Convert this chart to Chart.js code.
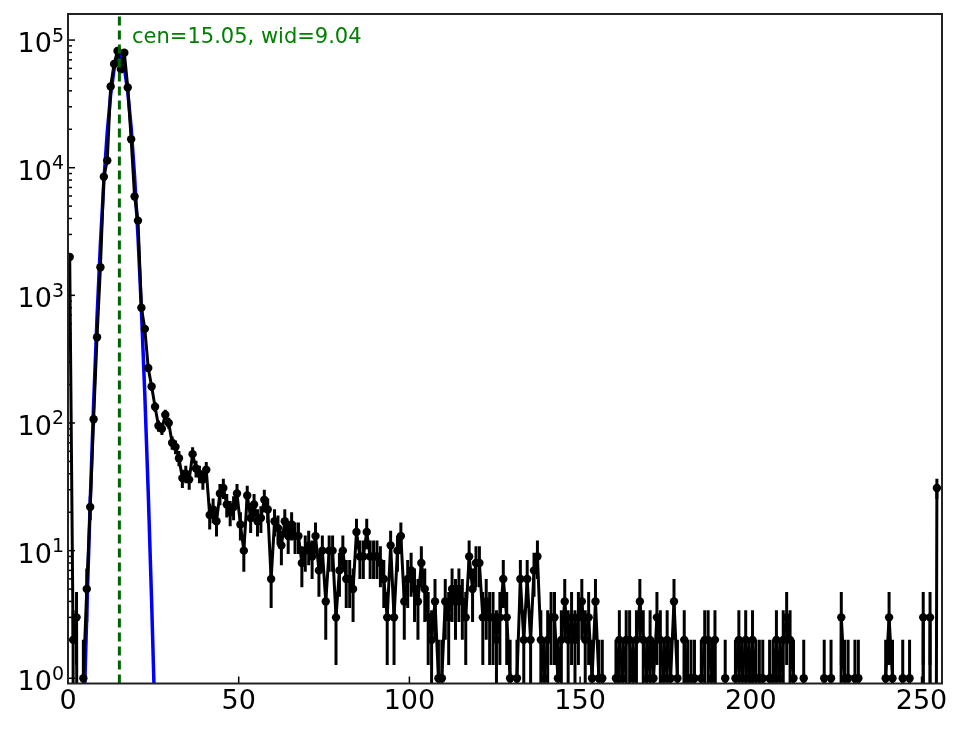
<!DOCTYPE html>
<html>
<head>
<meta charset="utf-8">
<script src="https://cdn.jsdelivr.net/npm/chart.js@4.4.1/dist/chart.umd.min.js"></script>
<style>
  html, body { margin: 0; padding: 0; background: #fff; overflow: hidden; }
  #wrap { width: 964px; height: 729px; position: relative; }
</style>
</head>
<body>
<div id="wrap"><canvas id="chart"></canvas></div>
<script>
// counts per bin, bin i covers [i, i+1)
const counts = [
  2000, 2, 3, 0, 1, 5, 22, 107, 470, 1660,
  8500, 11400, 43300, 65000, 82000, 59000, 79500, 42500, 16700, 5950,
  3850, 800, 546, 270, 193, 134, 95, 90, 116, 100,
  70, 65, 53, 37, 40, 36, 57, 44, 40, 36,
  43, 19, 21, 17, 28, 31, 23, 20, 22, 28,
  16, 10, 27, 18, 23, 17, 18, 25, 21, 6,
  17, 15, 11, 17, 13, 16, 13, 13, 8, 10,
  11, 9, 13, 7, 10, 4, 10, 10, 3, 7,
  10, 6, 6, 5, 14, 9, 9, 14, 9, 9,
  9, 8, 6, 3, 11, 3, 10, 13, 4, 6,
  7, 5, 4, 8, 5, 3, 2, 4, 1, 1,
  4, 3, 5, 4, 5, 4, 3, 9, 5, 8,
  8, 3, 4, 3, 3, 2, 3, 6, 3, 1,
  0, 1, 6, 2, 6, 2, 7, 9, 2, 1,
  2, 3, 3, 1, 2, 4, 2, 3, 2, 3,
  4, 2, 3, 1, 4, 1, 1, 0, 0, 0,
  1, 2, 1, 2, 2, 1, 2, 4, 2, 1,
  2, 1, 3, 2, 1, 2, 1, 4, 1, 0,
  2, 1, 1, 1, 0, 1, 2, 2, 1, 2,
  0, 0, 1, 0, 0, 1, 2, 1, 2, 1,
  2, 1, 1, 1, 0, 1, 1, 2, 1, 2,
  3, 2, 1, 0, 0, 1, 0, 0, 0, 0,
  0, 1, 0, 1, 0, 0, 3, 1, 1, 0,
  1, 1, 0, 0, 0, 0, 0, 0, 0, 1,
  3, 1, 0, 0, 1, 0, 1, 0, 0, 0,
  3, 0, 3, 0, 31
];

// gaussian fit curve as drawn (blue)
const fitX = [3.5, 4.5, 5.5, 6.5, 7.5, 8.5, 9.5, 10.5, 11.5, 12.5, 13.5, 14.5,
              15.5, 16.5, 17.5, 18.5, 19.5, 20.5, 21.5, 22.5, 23.5, 24.5, 25.5, 26.5];
const fitY = [0.03, 0.35, 3.2, 23.7, 141, 669, 2550, 7800, 19100, 37500, 59000, 74500,
              75300, 61000, 39600, 20600, 8600, 2880, 772, 166, 28.6, 3.95, 0.44, 0.04];
const fitCen = 15.05;
const fitWid = 9.04;

const xTicks = [0, 50, 100, 150, 200, 250];
const yDecades = [0, 1, 2, 3, 4, 5];
const xMin = 0, xMax = 256;
const yMin = 0.91, yMax = 1.6e5;

const FONT = '"DejaVu Sans", sans-serif';

// zero bins are clipped to the bottom like matplotlib's log 'clip'
const points = counts.map((c, i) => ({ x: i + 0.5, y: c > 0 ? c : 1e-9 }));
const fitPoints = fitX.map((x, i) => ({ x: x, y: fitY[i] }));

const mplAxes = {
  id: 'mplAxes',
  beforeDatasetsDraw(chart) {
    // sqrt(N) error bars
    const { ctx, chartArea: a, scales: { x, y } } = chart;
    ctx.save();
    ctx.beginPath();
    ctx.rect(a.left, a.top, a.right - a.left, a.bottom - a.top);
    ctx.clip();
    ctx.strokeStyle = '#000';
    ctx.lineWidth = 3;
    counts.forEach((c, i) => {
      if (c <= 0) return;
      const err = Math.sqrt(c);
      const px = x.getPixelForValue(i + 0.5);
      const lo = c - err;
      const y0 = lo > 0 ? y.getPixelForValue(lo) : a.bottom + 5;
      const y1 = y.getPixelForValue(c + err);
      ctx.beginPath();
      ctx.moveTo(px, y0);
      ctx.lineTo(px, y1);
      ctx.stroke();
    });
    ctx.restore();
  },
  afterDraw(chart) {
    const { ctx, chartArea: a, scales: { x, y } } = chart;
    ctx.save();

    // ticks, pointing inward
    ctx.strokeStyle = '#000';
    ctx.lineWidth = 1.5;
    xTicks.forEach(v => {
      const px = x.getPixelForValue(v);
      ctx.beginPath();
      ctx.moveTo(px, a.bottom);
      ctx.lineTo(px, a.bottom - 7);
      ctx.stroke();
    });
    yDecades.forEach(e => {
      const py = y.getPixelForValue(Math.pow(10, e));
      ctx.beginPath();
      ctx.moveTo(a.left, py);
      ctx.lineTo(a.left + 7, py);
      ctx.stroke();
      for (let m = 2; m <= 9; m++) {
        const v = m * Math.pow(10, e);
        if (v > yMax) break;
        const pm = y.getPixelForValue(v);
        ctx.beginPath();
        ctx.moveTo(a.left, pm);
        ctx.lineTo(a.left + 4, pm);
        ctx.stroke();
      }
    });

    // frame
    ctx.strokeStyle = '#222';
    ctx.lineWidth = 2;
    ctx.strokeRect(a.left, a.top, a.right - a.left, a.bottom - a.top);

    // tick labels
    ctx.fillStyle = '#000';
    ctx.font = '27px ' + FONT;
    ctx.textAlign = 'center';
    ctx.textBaseline = 'alphabetic';
    xTicks.forEach(v => {
      ctx.fillText(String(v), x.getPixelForValue(v), a.bottom + 25.5);
    });
    ctx.textAlign = 'left';
    yDecades.forEach(e => {
      const py = y.getPixelForValue(Math.pow(10, e));
      ctx.font = '19px ' + FONT;
      const sup = String(e);
      const wSup = ctx.measureText(sup).width;
      const supX = a.left - 4 - wSup;
      ctx.fillText(sup, supX, py + 1.5);
      ctx.font = '27px ' + FONT;
      const wBase = ctx.measureText('10').width;
      ctx.fillText('10', supX - wBase, py + 12);
    });

    // fit annotation
    ctx.fillStyle = '#008000';
    ctx.font = '21px ' + FONT;
    ctx.fillText('cen=' + fitCen.toFixed(2) + ', wid=' + fitWid.toFixed(2),
                 x.getPixelForValue(fitCen + 4) - 1, y.getPixelForValue(9.5e4));
    ctx.restore();
  }
};

new Chart(document.getElementById('chart'), {
  type: 'line',
  data: {
    datasets: [
      {
        label: 'center',
        data: [{ x: fitCen, y: yMin }, { x: fitCen, y: yMax }],
        borderColor: '#006400',
        borderWidth: 3,
        borderDash: [9, 5],
        pointRadius: 0,
        clip: 0
      },
      {
        label: 'counts',
        data: points,
        borderColor: '#000',
        borderWidth: 3,
        borderJoinStyle: 'round',
        pointRadius: ctx => counts[ctx.dataIndex] > 0 ? 4.2 : 0,
        pointBackgroundColor: '#000',
        pointBorderWidth: 0,
        tension: 0,
        clip: 0
      },
      {
        label: 'fit',
        data: fitPoints,
        borderColor: '#0000ff',
        borderWidth: 3.5,
        borderJoinStyle: 'round',
        pointRadius: 0,
        tension: 0,
        clip: 0
      }
    ]
  },
  options: {
    responsive: true,
    maintainAspectRatio: false,
    animation: false,
    events: [],
    layout: { padding: { left: 68, right: 22, top: 14, bottom: 45.5 } },
    plugins: { legend: { display: false }, tooltip: { enabled: false } },
    scales: {
      x: { type: 'linear', min: xMin, max: xMax, bounds: 'data', display: false },
      y: { type: 'logarithmic', min: yMin, max: yMax, bounds: 'data', display: false }
    }
  },
  plugins: [mplAxes]
});
</script>
</body>
</html>
